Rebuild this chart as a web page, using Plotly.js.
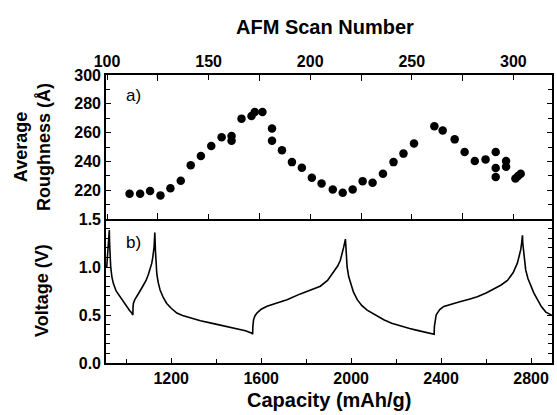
<!DOCTYPE html>
<html>
<head>
<meta charset="utf-8">
<script src="https://cdn.plot.ly/plotly-3.0.1.min.js"></script>
<style>html,body{margin:0;padding:0;background:#fff}</style>
</head>
<body>
<div id="chart" style="width:557px;height:415px"></div>
<script>
// AFM roughness data (top panel)
const scanNumber = [111.1,116.3,121.2,126.3,131.2,136.3,141.2,146.2,151.3,156.4,161.3,161.3,166.2,171.1,172.7,176.5,181.2,181.2,186.1,191.0,195.9,200.8,205.6,211.1,216.0,220.9,225.8,230.7,235.8,241.0,245.9,251.1,261.1,265.2,271.1,276.0,281.0,286.3,291.3,291.3,291.3,296.4,296.4,301.0,302.3,303.6];
const roughness = [217.5,217.5,219.4,216.4,221.4,226.6,237.4,243.7,250.7,256.7,257.6,254.4,269.7,271.5,274.3,274.3,262.8,254.4,247.7,239.5,235.6,228.6,224.6,220.5,218.2,220.5,226.3,225.2,231.4,239.5,245.4,252.5,264.4,261.4,255.3,246.5,240.3,241.4,246.5,235.4,229.1,240.3,236.3,228.2,229.8,231.4];

// Voltage profile (bottom panel)
const capacity = [913,918,921,924.7,926,928,931,936,942.5,955,972,987,1002,1014,1024.5,1029,
  1029.5,1030,1031.6,1038,1046.7,1060,1076,1088,1098,1107,1113.6,1118,1121,1123.8,1125.5,1127,
  1129.6,1132,1135.8,1142,1150.5,1165,1180,1200,1225,1250,1284,1330,1388,1440,1492,1530,1559,1561.7,
  1562,1563,1566,1572,1581,1600,1626,1670,1715,1774,1804,1835,1863,1895,1922,1940,1952,1962,1967,1974.6,
  1976,1978,1982,1989,1997,2010,2027,2047,2071,2105,2145,2180,2220,2260,2294,2330,2368,
  2369,2370,2373,2378,2383,2395,2412,2445,2487,2525,2561,2600,2635,2665,2695,2720,2739,2748,2754,2758,2761.6,
  2763,2766,2770,2776,2786,2799,2812,2828.5,2845,2865.5,2880,2898];
const voltage = [0.99,1.2,1.32,1.385,1.25,1.10,1.0,0.90,0.83,0.75,0.69,0.64,0.59,0.55,0.52,0.50,
  0.50,0.57,0.62,0.66,0.69,0.745,0.81,0.86,0.92,0.98,1.04,1.10,1.15,1.21,1.28,1.36,
  1.18,1.05,0.93,0.84,0.76,0.68,0.62,0.57,0.52,0.495,0.47,0.44,0.41,0.385,0.36,0.335,0.31,0.30,
  0.30,0.38,0.45,0.49,0.52,0.56,0.59,0.625,0.66,0.72,0.745,0.77,0.80,0.86,0.95,1.01,1.07,1.15,1.21,1.29,
  1.20,1.10,1.00,0.90,0.83,0.74,0.66,0.60,0.55,0.50,0.45,0.415,0.385,0.36,0.34,0.32,0.30,
  0.30,0.38,0.45,0.50,0.52,0.56,0.59,0.615,0.64,0.665,0.69,0.73,0.77,0.81,0.86,0.94,1.04,1.11,1.18,1.25,1.33,
  1.25,1.18,1.07,0.97,0.88,0.80,0.73,0.66,0.59,0.53,0.51,0.49];

const scanTicks = [100,150,200,250,300];
const roughTicks = [220,240,260,280,300];
const voltTicks = [0,0.5,1.0,1.5];
const capTicks = [1200,1600,2000,2400,2800];

const F = 'Liberation Sans, Arial, sans-serif';
const tickFont = {family: F, size: 16, color: '#000', weight: 'bold'};
const titleFont = {family: F, size: 20, color: '#000', weight: 'bold'};
const ytitleFont = {family: F, size: 18, color: '#000', weight: 'bold'};

const traces = [
  {x: scanNumber, y: roughness, xaxis: 'x2', yaxis: 'y2', type: 'scatter', mode: 'markers',
   marker: {color: '#000', size: 8.5}},
  {x: capacity, y: voltage, xaxis: 'x', yaxis: 'y', type: 'scatter', mode: 'lines',
   line: {color: '#000', width: 1.6}}
];

const common = {showline: true, linecolor: '#000', linewidth: 1.6, ticks: 'inside', tickcolor: '#000',
  tickwidth: 1.4, showgrid: false, zeroline: false, tickfont: tickFont};

const layout = {
  width: 557, height: 415,
  margin: {l: 106, r: 5, t: 75, b: 52},
  showlegend: false,
  xaxis: Object.assign({}, common, {
    anchor: 'y', range: [910, 2893],
    tickmode: 'array', tickvals: capTicks,
    minor: {tickmode: 'linear', tick0: 1000, dtick: 400, ticks: 'inside', ticklen: 4}
  }),
  yaxis: Object.assign({}, common, {
    anchor: 'x', domain: [0, 0.5], range: [0, 1.5],
    tickmode: 'array', tickvals: voltTicks, tickformat: '.1f', mirror: 'ticks',
    minor: {tickmode: 'linear', tick0: 0, dtick: 0.1, ticks: 'inside', ticklen: 4}
  }),
  xaxis2: Object.assign({}, common, {
    anchor: 'y2', side: 'top', range: [99.5, 319],
    tickmode: 'array', tickvals: scanTicks, mirror: 'ticks',
    minor: {tickmode: 'linear', tick0: 125, dtick: 50, ticks: 'inside', ticklen: 6}
  }),
  yaxis2: Object.assign({}, common, {
    anchor: 'x2', domain: [0.5, 1], range: [200, 300],
    tickmode: 'array', tickvals: roughTicks, mirror: 'ticks',
    minor: {tickmode: 'linear', tick0: 200, dtick: 10, ticks: 'inside', ticklen: 4}
  }),
  annotations: [
    {text: 'AFM Scan Number', xref: 'paper', yref: 'paper', x: 0.49, y: 1, yshift: 48,
     xanchor: 'center', yanchor: 'middle', showarrow: false, font: titleFont},
    {text: 'Capacity (mAh/g)', xref: 'paper', yref: 'paper', x: 0.5, y: 0, yshift: -37,
     xanchor: 'center', yanchor: 'middle', showarrow: false, font: titleFont},
    {text: 'Average<br>Roughness (Å)', xref: 'paper', yref: 'paper', x: 0, y: 0.75, xshift: -74,
     xanchor: 'center', yanchor: 'middle', textangle: -90, showarrow: false, font: ytitleFont},
    {text: 'Voltage (V)', xref: 'paper', yref: 'paper', x: 0, y: 0.25, xshift: -64,
     xanchor: 'center', yanchor: 'middle', textangle: -90, showarrow: false, font: ytitleFont},
    {text: 'a)', xref: 'paper', yref: 'paper', x: 0.04, y: 0.93, xanchor: 'left', yanchor: 'middle',
     showarrow: false, font: {family: F, size: 17, color: '#000'}},
    {text: 'b)', xref: 'paper', yref: 'paper', x: 0.04, y: 0.42, xanchor: 'left', yanchor: 'middle',
     showarrow: false, font: {family: F, size: 17, color: '#000'}}
  ]
};

function firstScanLabelShown() {
  const t = Array.from(document.querySelectorAll('#chart g.x2tick text'))
    .find(e => e.textContent.trim() === String(scanTicks[0]));
  if (!t) return false;
  const cs = getComputedStyle(t);
  if (cs.opacity === '0' || cs.display === 'none' || cs.visibility === 'hidden') return false;
  const r = t.getBoundingClientRect();
  return r.width > 0 && r.height > 0;
}

Promise.resolve().then(function () {
  return Plotly.newPlot('chart', traces, layout, {displayModeBar: false});
}).then(function (gd) {
  // Plotly sometimes drops the tick label that sits in the corner of the frame;
  // if so, put that same tick value back as a label on the top axis.
  if (!firstScanLabelShown()) {
    const anns = layout.annotations.concat([{
      text: String(scanTicks[0]), xref: 'x2', x: scanTicks[0], yref: 'paper', y: 1,
      yanchor: 'bottom', xanchor: 'center', yshift: 6, showarrow: false, font: tickFont
    }]);
    return Plotly.relayout(gd, {annotations: anns});
  }
});
</script>
</body>
</html>
